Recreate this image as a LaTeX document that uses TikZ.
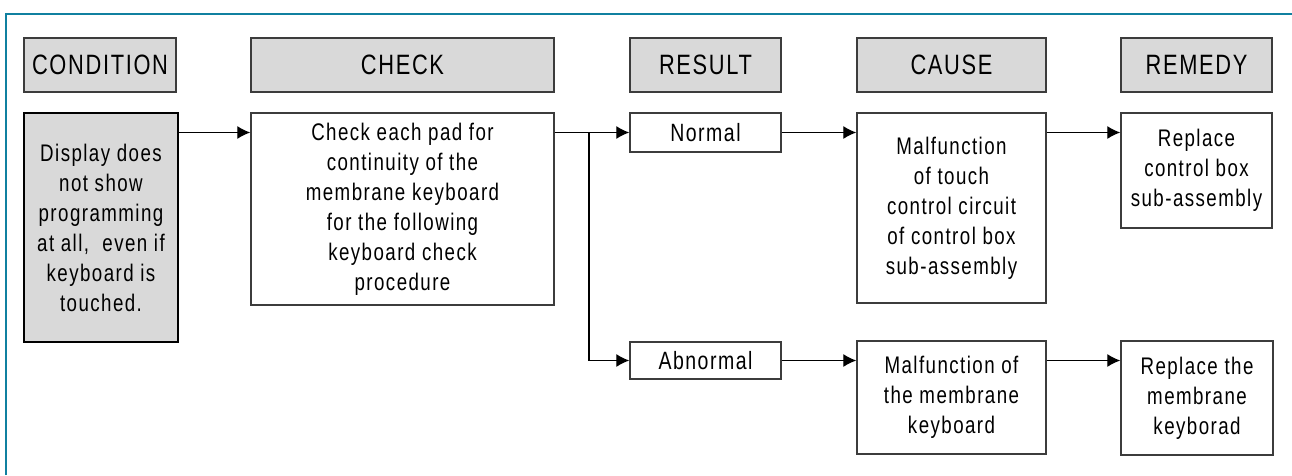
\documentclass[tikz,border=0pt]{standalone}
\usepackage{fontspec}
\setmainfont{Liberation Sans}[FakeStretch=0.78, LetterSpace=6]
\usepackage{tikz}
\usetikzlibrary{calc, arrows.meta, shapes}
\definecolor{framecol}{RGB}{16,128,160}
\definecolor{headfill}{RGB}{217,217,217}
\definecolor{boxline}{RGB}{60,60,60}
\tikzset{>={Latex[length=13pt,width=13pt]}}
\tikzset{
  head/.style={draw=boxline, line width=1.4pt, fill=headfill, inner sep=0pt,
    minimum height=54pt, font=\fontsize{28}{32}\selectfont},
  body/.style={draw=boxline, line width=1.4pt, fill=white, inner sep=0pt,
    align=center, font=\fontsize{24}{30}\selectfont},
  link/.style={->, line width=1.2pt}
}

\begin{document}
\begin{tikzpicture}[x=1pt, y=-1pt]
\useasboundingbox (0,0) rectangle (1292,475);
\draw[framecol, line width=2.5pt] (6,475) -- (6,14) -- (1292,14);

% column headings
\node[head, minimum width=152pt] (hcond)  at (100,65)   {CONDITION};
\node[head, minimum width=303pt] (hcheck) at (402.5,65) {CHECK};
\node[head, minimum width=151pt] (hres)   at (705.5,65) {RESULT};
\node[head, minimum width=189pt] (hcause) at (951.5,65) {CAUSE};
\node[head, minimum width=151pt] (hrem)   at (1196.5,65) {REMEDY};

% boxes
\node[body, fill=headfill, draw=black, minimum width=154pt, minimum height=229pt] (cond) at (101,227.5)
  {Display does\\not show\\programming\\at all,~ even if\\keyboard is\\touched.};
\node[body, minimum width=303pt, minimum height=192pt] (check) at (402.5,209)
  {Check each pad for\\continuity of the\\membrane keyboard\\for the following\\keyboard check\\procedure};
\node[body, minimum width=151pt, minimum height=39pt, font=\fontsize{25}{30}\selectfont] (norm) at (705.5,132.5) {Normal};
\node[body, minimum width=151pt, minimum height=37pt, font=\fontsize{25}{30}\selectfont] (abn) at (705.5,360.5) {Abnormal};
\node[body, minimum width=189pt, minimum height=190pt] (cause1) at (951.5,208)
  {Malfunction\\of touch\\control circuit\\of control box\\sub-assembly};
\node[body, minimum width=189pt, minimum height=113pt] (cause2) at (951.5,397.5)
  {Malfunction of\\the membrane\\keyboard};
\node[body, minimum width=151pt, minimum height=115pt] (rem1) at (1196.5,170.5)
  {Replace\\control box\\sub-assembly};
\node[body, minimum width=152pt, minimum height=114pt] (rem2) at (1197,398)
  {Replace the\\membrane\\keyborad};

% connectors
\coordinate (split) at (589,0);
\draw[link] (cond.east |- norm.west) -- (check.west |- norm.west);
\draw[link] (check.east |- norm.west) -- (norm.west);
\draw[link] (split |- norm.west) |- (abn.west);
\draw[link] (norm.east) -- (cause1.west |- norm.east);
\draw[link] (abn.east) -- (cause2.west |- abn.east);
\draw[link] (cause1.east |- norm.east) -- (rem1.west |- norm.east);
\draw[link] (cause2.east |- abn.east) -- (rem2.west |- abn.east);
\end{tikzpicture}
\end{document}
